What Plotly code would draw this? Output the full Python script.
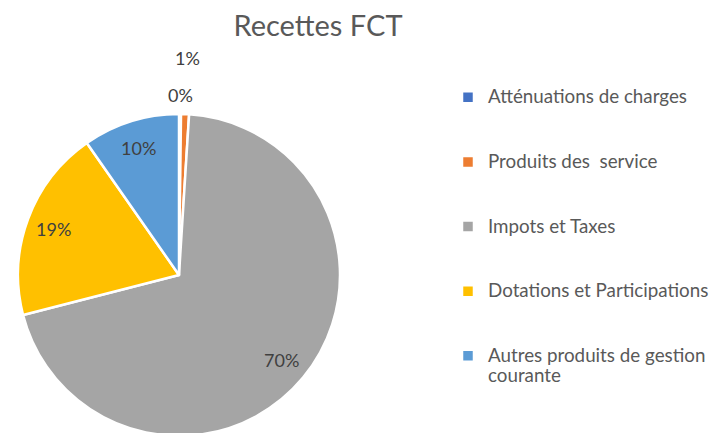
import math
import plotly.graph_objects as go

categories = ["Atténuations de charges", "Produits des  service", "Impots et Taxes",
              "Dotations et Participations", "Autres produits de gestion<br>courante"]
values = [0.2, 0.8, 70.0, 19.3, 9.7]
colors = ["#4472C4", "#ED7D31", "#A5A5A5", "#FFC000", "#5B9BD5"]

W, H = 720, 433
# pie geometry (figure pixels; the page adds an 8px body margin)
CX, CY, R = 171, 267, 161
# label distance from centre, as a fraction of the radius (Excel-like best fit)
label_rfrac = [1.12, 1.35, 0.83, 0.83, 0.83]

FONT = "Lato, 'Open Sans', Liberation Sans, sans-serif"
SPAN = "<span style='font-size:18.8px'>"

legend_labels = ["<br>" + SPAN + c.replace("<br>", "</span><br>" + SPAN) + "</span>"
                 + ("" if "<br>" in c else "<br> ") for c in categories]

fig = go.Figure(go.Pie(
    labels=legend_labels,
    values=values,
    sort=False,
    direction="clockwise",
    rotation=0,
    marker=dict(colors=colors, line=dict(color="white", width=2.5)),
    textinfo="none",
    domain=dict(x=[(CX - R) / W, (CX + R) / W], y=[(H - CY - R) / H, (H - CY + R) / H]),
    hoverinfo="label+percent",
))

# percentage labels placed from the data (mid-angle of each slice)
total = sum(values)
cum = 0.0
annotations = []
for v, rf in zip(values, label_rfrac):
    mid = (cum + v / 2) / total
    cum += v
    th = 2 * math.pi * mid
    px = CX + rf * R * math.sin(th)
    py = CY - rf * R * math.cos(th)
    annotations.append(dict(
        x=px / W, y=1 - py / H, xref="paper", yref="paper",
        text=f"{v / total:.0%}", showarrow=False,
        xanchor="center", yanchor="middle",
        font=dict(family=FONT, size=18, color="#404040"),
    ))

fig.update_layout(
    width=W, height=H,
    margin=dict(l=0, r=0, t=0, b=0),
    paper_bgcolor="white",
    plot_bgcolor="white",
    title=dict(text="Recettes FCT", x=310 / W, xanchor="center", y=1 - 18 / H, yanchor="middle",
               font=dict(family=FONT, size=29, color="#595959")),
    legend=dict(x=440 / W, xanchor="left", y=1 - 52 / H, yanchor="top",
                font=dict(family=FONT, size=15.8, color="#595959"),
                bgcolor="rgba(0,0,0,0)"),
    annotations=annotations,
    showlegend=True,
)

fig.write_html("out.html")
